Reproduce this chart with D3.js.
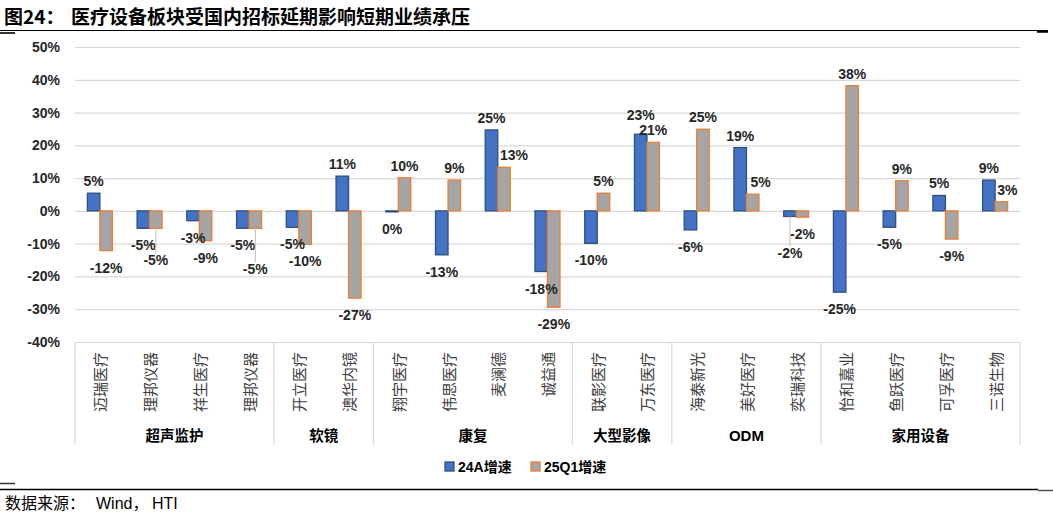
<!DOCTYPE html>
<html>
<head>
<meta charset="utf-8">
<script src="https://cdn.jsdelivr.net/npm/d3@7"></script>
<style>
body { margin: 0; background: #fff; }
svg { display: block; font-family: "Liberation Sans", Arial, sans-serif; }
.cjk { font-family: "Noto Sans CJK SC", sans-serif; }
</style>
</head>
<body>
<div id="chart"></div>
<script>
var companies = ["迈瑞医疗", "理邦仪器", "祥生医疗", "理邦仪器", "开立医疗", "澳华内镜", "翔宇医疗", "伟思医疗", "麦澜德", "诚益通",
    "联影医疗", "万东医疗", "海泰新光", "美好医疗", "奕瑞科技", "怡和嘉业", "鱼跃医疗", "可孚医疗", "三诺生物"];
var groups = ["超声监护", "软镜", "康复", "大型影像", "ODM", "家用设备"];
var groupSizes = [4, 2, 4, 2, 3, 4];
var seriesNames = ["24A增速", "25Q1增速"];
var growth24A = [5.4, -5.3, -3.0, -5.3, -5.0, 10.6, -0.3, -13.4, 24.7, -18.5, -9.9, 23.4, -5.8, 19.3, -1.7, -24.8, -5.0, 4.7, 9.4];
var growth25Q1 = [-12.1, -5.3, -9.1, -5.3, -10.2, -26.6, 10.1, 9.4, 13.3, -29.4, 5.4, 20.9, 24.9, 5.1, -1.9, 38.2, 9.2, -8.6, 2.8];
var yTicks = [-40, -30, -20, -10, 0, 10, 20, 30, 40, 50];

// label tweaks where Excel moved labels apart: [category, series, dx, dy, leader line]
var labelNudge = [[1, 1, 0, 15, true], [3, 1, 0, 24, true], [8, 1, 10, 0, false], [11, 0, 0, -7, false],
    [13, 1, 8, 0, false], [14, 0, 0, 20, true], [18, 1, 6, 0, false]];

var width = 1053, height = 516;
var plotLeft = 75, plotRight = 1020, plotTop = 47, plotBottom = 342;

var svg = d3.select("#chart").append("svg")
    .attr("width", width)
    .attr("height", height);

// title + rules
svg.append("text").attr("class", "cjk")
    .attr("x", 4).attr("y", 24)
    .attr("font-size", 19).attr("font-weight", "bold").attr("fill", "#000")
    .text("图24：");
svg.append("text").attr("class", "cjk")
    .attr("x", 71).attr("y", 24)
    .attr("font-size", 19).attr("font-weight", "bold").attr("fill", "#000")
    .text("医疗设备板块受国内招标延期影响短期业绩承压");
svg.append("line").attr("x1", 0).attr("x2", 1048).attr("y1", 30.5).attr("y2", 30.5)
    .attr("stroke", "#000").attr("stroke-width", 1.2);
svg.append("line").attr("x1", 0).attr("x2", 15).attr("y1", 33).attr("y2", 33)
    .attr("stroke", "#333").attr("stroke-width", 2);
svg.append("line").attr("x1", 1037).attr("x2", 1048).attr("y1", 31.5).attr("y2", 31.5)
    .attr("stroke", "#000").attr("stroke-width", 2.5);

var x = d3.scaleBand()
    .domain(d3.range(companies.length))
    .range([plotLeft, plotRight]);

var xSub = d3.scaleBand()
    .domain([0, 1])
    .range([0, x.bandwidth()])
    .paddingOuter(0.99);

var y = d3.scaleLinear()
    .domain([-40, 50])
    .range([plotBottom, plotTop]);

// grid + y axis
var yAxis = svg.append("g")
    .attr("transform", "translate(" + plotLeft + ",0)")
    .call(d3.axisLeft(y).tickValues(yTicks).tickSize(-(plotRight - plotLeft)).tickPadding(15)
        .tickFormat(function (d) { return d + "%"; }));
yAxis.select(".domain").remove();
yAxis.selectAll(".tick line").attr("stroke", "#d9d9d9").attr("stroke-width", 1.2);
yAxis.selectAll(".tick text")
    .attr("font-size", 14).attr("font-weight", "bold").attr("fill", "#262626")
    .attr("font-family", "Liberation Sans, Arial, sans-serif");

// category box
var boxBottom = 445;
var edges = [0];
groupSizes.forEach(function (n, i) { edges.push(edges[i] + n); });
svg.append("g").selectAll("line")
    .data(edges)
    .enter().append("line")
    .attr("x1", function (d) { return d < companies.length ? x(d) : plotRight; })
    .attr("x2", function (d) { return d < companies.length ? x(d) : plotRight; })
    .attr("y1", plotBottom).attr("y2", boxBottom)
    .attr("stroke", "#d9d9d9").attr("stroke-width", 1.2);

// company names, rotated
svg.append("g").selectAll("text")
    .data(companies)
    .enter().append("text")
    .attr("class", "cjk")
    .attr("transform", function (d, i) {
        return "translate(" + (x(i) + x.bandwidth() / 2) + "," + (plotBottom + 10) + ") rotate(-90)";
    })
    .attr("text-anchor", "end")
    .attr("dominant-baseline", "central")
    .attr("font-size", 15)
    .attr("fill", "#404040")
    .text(function (d) { return d; });

// group names
svg.append("g").selectAll("text")
    .data(groups)
    .enter().append("text")
    .attr("class", function (d) { return d === "ODM" ? "" : "cjk"; })
    .attr("x", function (d, i) {
        var a = x(edges[i]);
        var b = edges[i + 1] < companies.length ? x(edges[i + 1]) : plotRight;
        return (a + b) / 2;
    })
    .attr("y", 441)
    .attr("text-anchor", "middle")
    .attr("font-size", function (d) { return d === "ODM" ? 15 : 14.5; })
    .attr("font-weight", "bold")
    .attr("fill", "#000")
    .text(function (d) { return d; });

// bars
var fills = ["#4472c4", "#a5a5a5"];
var strokes = ["#2f4f80", "#ed7d31"];
var seriesData = [growth24A, growth25Q1];

var bars = [];
seriesData.forEach(function (vals, s) {
    vals.forEach(function (v, i) { bars.push({ s: s, i: i, v: v }); });
});

svg.append("g").selectAll("rect")
    .data(bars)
    .enter().append("rect")
    .attr("x", function (d) { return x(d.i) + xSub(d.s); })
    .attr("width", xSub.bandwidth())
    .attr("y", function (d) { return y(Math.max(0, d.v)); })
    .attr("height", function (d) { return Math.max(1, Math.abs(y(d.v) - y(0))); })
    .attr("fill", function (d) { return fills[d.s]; })
    .attr("stroke", function (d) { return strokes[d.s]; })
    .attr("stroke-width", 1.3);

// data labels
function nudgeFor(d) {
    var n = labelNudge.filter(function (m) { return m[0] === d.i && m[1] === d.s; })[0];
    return n || [d.i, d.s, 0, 0, false];
}

var labels = svg.append("g");
bars.forEach(function (d) {
    var n = nudgeFor(d);
    var cx = x(d.i) + xSub(d.s) + xSub.bandwidth() / 2;
    var yEnd = y(d.v);
    var ly = d.v >= 0 ? yEnd - 7 + n[3] : yEnd + 22 + n[3];
    if (n[4]) {
        labels.append("line")
            .attr("x1", cx).attr("x2", cx)
            .attr("y1", yEnd).attr("y2", ly - 12)
            .attr("stroke", "#bfbfbf").attr("stroke-width", 1);
    }
    labels.append("text")
        .attr("x", cx + n[2])
        .attr("y", ly)
        .attr("text-anchor", "middle")
        .attr("font-size", 14)
        .attr("font-weight", "bold")
        .attr("fill", "#262626")
        .text(Math.round(d.v) + "%");
});

// legend
var legend = svg.append("g");
var legendX = [445, 531];
seriesNames.forEach(function (name, s) {
    legend.append("rect")
        .attr("x", legendX[s]).attr("y", 462)
        .attr("width", 9).attr("height", 9)
        .attr("fill", fills[s]).attr("stroke", strokes[s]).attr("stroke-width", 1.3);
    legend.append("text")
        .attr("x", legendX[s] + 13).attr("y", 472)
        .attr("font-size", 14).attr("font-weight", "bold").attr("fill", "#000")
        .attr("font-family", "Liberation Sans, Noto Sans CJK SC, sans-serif")
        .text(name);
});

// footer
svg.append("line").attr("x1", 0).attr("x2", 1038).attr("y1", 489.5).attr("y2", 489.5)
    .attr("stroke", "#000").attr("stroke-width", 1.5);
svg.append("line").attr("x1", 0).attr("x2", 15).attr("y1", 483.5).attr("y2", 483.5)
    .attr("stroke", "#333").attr("stroke-width", 1.5);
svg.append("line").attr("x1", 1038).attr("x2", 1053).attr("y1", 490.5).attr("y2", 490.5)
    .attr("stroke", "#555").attr("stroke-width", 1.5);
var source = svg.append("text").attr("class", "cjk")
    .attr("y", 509)
    .attr("font-size", 16).attr("fill", "#000");
source.append("tspan").attr("x", 5).text("数据来源：");
source.append("tspan").attr("x", 96).attr("font-family", "Liberation Sans, Arial, sans-serif").text("Wind");
source.append("tspan").text("，");
source.append("tspan").attr("x", 152).attr("font-family", "Liberation Sans, Arial, sans-serif").text("HTI");
</script>
</body>
</html>
